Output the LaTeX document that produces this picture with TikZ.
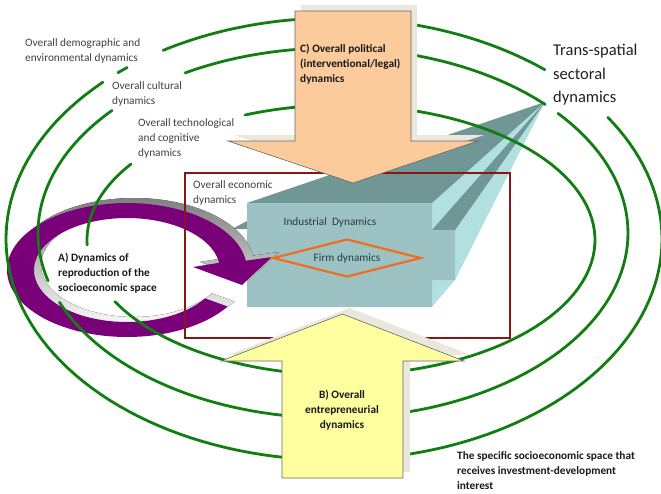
\documentclass[tikz,border=0pt]{standalone}
\usepackage{fontspec}
\setmainfont{Carlito}
\usetikzlibrary{shapes.geometric}
\definecolor{arcgreen}{RGB}{18,126,18}
\definecolor{framered}{RGB}{135,22,22}
\definecolor{peach}{RGB}{252,203,155}
\definecolor{lemon}{RGB}{255,255,160}
\definecolor{plum}{RGB}{122,0,122}
\definecolor{shade}{RGB}{234,232,221}
\definecolor{tealfront}{RGB}{156,194,195}
\definecolor{tealtop}{RGB}{112,150,150}
\definecolor{tealside}{RGB}{178,224,224}
\definecolor{firmorange}{RGB}{240,110,30}
\definecolor{labelgray}{RGB}{64,64,64}
\definecolor{slate}{RGB}{40,60,70}

% one piece of an elliptical orbit: centre x, centre y, x radius, y radius, angle range
\newcommand\ellarc[6]{\draw[arcline] plot[domain=#5:#6, samples=60, variable=\t]
  ({#1+#3*cos(\t)},{#2+#4*sin(\t)});}
% circular arrow of the reproduction cycle
\newcommand\cyclearrow[1]{\fill[#1]
  plot[domain=33:352, samples=90, variable=\t] ({127+120*cos(\t)},{270+67*sin(\t)})
  -- (272,257) -- (242,285) -- (193,267)
  -- plot[domain=352:33, samples=90, variable=\t] ({127+93*cos(\t)},{270+52*sin(\t)})
  -- cycle;}
% block arrows
\newcommand\politicalarrow[1]{\path[#1] (295,11) -- (411,11) -- (411,141) -- (478,141)
  -- (353,183) -- (228,141) -- (295,141) -- cycle;}
\newcommand\enterprisearrow[1]{\path[#1] (282,478) -- (403,478) -- (403,361) -- (464,361)
  -- (342.5,314) -- (221,361) -- (282,361) -- cycle;}

\begin{document}
\begin{tikzpicture}[x=1pt,y=-1pt,
  arcline/.style={draw=arcgreen, line width=2.8pt, line cap=round},
  lbl/.style={inner sep=0pt, anchor=north west, align=left, text=labelgray,
    font=\fontsize{11.3}{15}\selectfont},
  blbl/.style={lbl, text=black!90, font=\fontsize{11.3}{15}\selectfont\bfseries},
  biglbl/.style={lbl, text=black!88, font=\fontsize{16.5}{23.5}\selectfont},
  blocktext/.style={inner sep=0pt, text=slate, font=\fontsize{11.3}{14}\selectfont}]
\useasboundingbox (0,0) rectangle (661,493);

% industrial block in perspective
\coordinate (V) at (545,102);
\fill[tealside] (432,203) -- (V) -- (455,280) -- (432,307) -- cycle;
\fill[tealtop] (247,203) -- (V) -- (432,203) -- cycle;
\fill[tealtop] (432,230) -- (V) -- (455,230) -- cycle;
\fill[tealtop] (232,229) -- (247,221) -- (247,229) -- cycle;
\fill[tealfront] (247,203) -- (432,203) -- (432,230) -- (455,230) -- (455,280)
  -- (432,280) -- (432,307) -- (247,307) -- cycle;
\node[blocktext] (industrial) at (330,222) {Industrial\ \ Dynamics};

% reproduction cycle
\cyclearrow{shade, shift={(7,-5)}}
\cyclearrow{plum}

% firm
\node[diamond, draw=firmorange, line width=2.2pt, aspect=3.9, minimum width=148pt,
  minimum height=38pt, inner sep=1pt, blocktext] (firm) at (347,258) {Firm dynamics};

% orbits
\ellarc{334}{239}{328}{221}{-121.4}{-93}
\ellarc{334}{239}{328}{221}{-131.2}{-129.1}
\ellarc{334}{239}{328}{221}{96}{225.2}
\ellarc{334}{239}{328}{221}{-80}{-50}
\ellarc{334}{239}{328}{221}{-33.4}{84}
\ellarc{333}{233}{295}{185}{-120.1}{-93}
\ellarc{333}{233}{295}{185}{165}{221.5}
\ellarc{333}{233}{295}{185}{96}{158}
\ellarc{333}{233}{295}{185}{-80}{-44}
\ellarc{333}{233}{295}{185}{-40.3}{84}
\ellarc{341}{240}{254}{135}{-112.2}{-93}
\ellarc{341}{240}{254}{135}{177.9}{214.2}
\ellarc{341}{240}{254}{135}{96}{152.9}
\ellarc{341}{240}{254}{135}{-78}{84}

% economic frame
\draw[framered, line width=2.4pt] (185,173) rectangle (510,338);

% political and entrepreneurial pressures
\politicalarrow{fill=shade, shift={(6,-6)}}
\politicalarrow{fill=peach, draw=black!60, line width=0.6pt}
\enterprisearrow{fill=shade, shift={(7,-6)}}
\enterprisearrow{fill=lemon, draw=black!60, line width=0.6pt}

% labels
\node[lbl] (demo) at (25,38) {Overall demographic and\\environmental dynamics};
\node[lbl] (cult) at (112,81) {Overall cultural\\dynamics};
\node[lbl] (tech) at (138,118) {Overall technological\\and cognitive\\dynamics};
\node[lbl] (econ) at (193,180) {Overall economic\\dynamics};
\node[blbl] (pol) at (300,44) {C) Overall political\\(interventional/legal)\\dynamics};
\node[blbl] (repro) at (58,253) {A) Dynamics of\\reproduction of the\\socioeconomic space};
\node[blbl, align=center, anchor=north] (entre) at (342,390) {B) Overall\\entrepreneurial\\dynamics};
\node[blbl] (space) at (457,451) {The specific socioeconomic space that\\receives investment-development\\interest};
\node[biglbl] (trans) at (553,44) {Trans-spatial\\sectoral\\dynamics};
\end{tikzpicture}
\end{document}
